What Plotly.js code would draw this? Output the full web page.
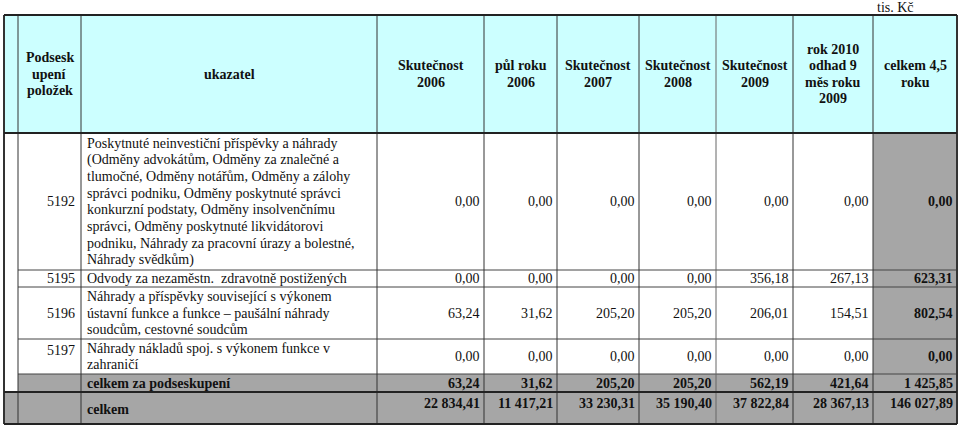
<!DOCTYPE html>
<html>
<head>
<meta charset="utf-8">
<script src="https://cdn.plot.ly/plotly-3.0.1.min.js"></script>
<style>body{margin:0;background:#fff}</style>
</head>
<body>
<div id="TableDiv" style="width:960px;height:426px"></div>
<script>
// column headers
var headers = ['', 'Podsesk<br>upení<br>položek', 'ukazatel', 'Skutečnost<br>2006', 'půl roku<br>2006',
  'Skutečnost<br>2007', 'Skutečnost<br>2008', 'Skutečnost<br>2009',
  'rok 2010<br>odhad 9<br>měs roku<br>2009', 'celkem 4,5<br>roku'];

// item codes and their descriptions
var codes = ['5192', '5195', '5196', '5197'];
var labels = [
  'Poskytnuté neinvestiční příspěvky a náhrady<br>(Odměny advokátům, Odměny za znalečné a<br>tlumočné, Odměny notářům, Odměny a zálohy<br>správci podniku, Odměny poskytnuté správci<br>konkurzní podstaty, Odměny insolvenčnímu<br>správci, Odměny poskytnuté likvidátorovi<br>podniku, Náhrady za pracovní úrazy a bolestné,<br>Náhrady svědkům)',
  'Odvody za nezaměstn.  zdravotně postižených',
  'Náhrady a příspěvky související s výkonem<br>ústavní funkce a funkce – paušální náhrady<br>soudcům, cestovné soudcům',
  'Náhrady nákladů spoj. s výkonem funkce v<br>zahraničí'
];

// values in tis. Kč
var skut2006 = [0, 0, 63.24, 0];
var pul2006  = [0, 0, 31.62, 0];
var skut2007 = [0, 0, 205.20, 0];
var skut2008 = [0, 0, 205.20, 0];
var skut2009 = [0, 356.18, 206.01, 0];
var odhad2010 = [0, 267.13, 154.51, 0];
var celkem45 = [0, 623.31, 802.54, 0];

var subtotalLabel = 'celkem za podseskupení';
var subtotal = [63.24, 31.62, 205.20, 205.20, 562.19, 421.64, 1425.85];
var totalLabel = 'celkem';
var grandTotal = [22834.41, 11417.21, 33230.31, 35190.40, 37822.84, 28367.13, 146027.89];

var unitNote = 'tis. Kč';

// grid geometry (pixels on a 960x426 axis)
var colEdges = [4, 18, 81, 377, 484, 557, 639, 716, 793, 873, 957];
var rowEdges = [15, 133, 270, 287, 339, 374, 392, 424];

var cyan = '#ccffff';
var grey = '#a6a6a6';
var ink = '#111111';
var serif = 'Liberation Serif, Times New Roman, serif';
var lineH = 16.6;

function fmt(v) {
  var p = v.toFixed(2).split('.');
  return p[0].replace(/\B(?=(\d{3})+(?!\d))/g, ' ') + ',' + p[1];
}

var shapes = [];
var annotations = [];

function rect(x0, x1, y0, y1, fill) {
  shapes.push({type: 'rect', xref: 'x', yref: 'y', x0: x0, x1: x1, y0: y0, y1: y1,
    fillcolor: fill, line: {width: 0}, layer: 'below'});
}
function seg(x0, y0, x1, y1, w, c) {
  shapes.push({type: 'line', xref: 'x', yref: 'y', x0: x0, y0: y0, x1: x1, y1: y1,
    line: {width: w, color: c || '#333'}});
}
function text(str, x, yc, anchor, bold, size) {
  var parts = str.split('<br>');
  var top = yc - (parts.length - 1) * lineH / 2;
  parts.forEach(function (p, i) {
    annotations.push({xref: 'x', yref: 'y', x: x, y: top + i * lineH, text: bold ? '<b>' + p + '</b>' : p,
      showarrow: false, xanchor: anchor, yanchor: 'middle', borderpad: 0,
      font: {family: serif, size: size || 14, color: ink}});
  });
}

var L = colEdges[0], R = colEdges[colEdges.length - 1];
// fills
rect(L, R, rowEdges[0], rowEdges[1], cyan);
rect(colEdges[9], R, rowEdges[1], rowEdges[5], grey);
rect(colEdges[1], R, rowEdges[5], rowEdges[6], grey);
rect(L, R, rowEdges[6], rowEdges[7], grey);

// grid lines
for (var r = 2; r <= 5; r++) seg(colEdges[1], rowEdges[r], R, rowEdges[r], 1, '#444');
colEdges.forEach(function (x, i) {
  var w = (i === 0 || i === colEdges.length - 1) ? 2 : 1;
  seg(x, rowEdges[0], x, rowEdges[7], w, i === 7 ? '#666' : '#333');
});
seg(L, rowEdges[0], R, rowEdges[0], 2, '#222');
seg(L, rowEdges[1], R, rowEdges[1], 2, '#222');
seg(L, rowEdges[6], R, rowEdges[6], 2, '#222');
seg(L, rowEdges[7], R, rowEdges[7], 2, '#222');

// header
headers.forEach(function (h, i) {
  if (!h) return;
  text(h, (colEdges[i] + colEdges[i + 1]) / 2, (rowEdges[0] + rowEdges[1]) / 2, 'center', true, 14);
});
text(unitNote, colEdges[9] + 22, 7, 'center', false, 14);

// body rows
var series = [skut2006, pul2006, skut2007, skut2008, skut2009, odhad2010, celkem45];
var codeShift = [0, 0, 0, -6];
codes.forEach(function (code, r) {
  var yc = (rowEdges[r + 1] + rowEdges[r + 2]) / 2;
  text(code, colEdges[2] - 5, yc + codeShift[r], 'right', false, 14);
  text(labels[r], colEdges[2] + 5, yc, 'left', false, 14);
  series.forEach(function (s, k) {
    text(fmt(s[r]), colEdges[k + 4] - 3.5, yc, 'right', k === 6, 14);
  });
});

// subtotal and total
var ySub = (rowEdges[5] + rowEdges[6]) / 2;
text(subtotalLabel, colEdges[2] + 5, ySub, 'left', true, 14);
subtotal.forEach(function (v, k) { text(fmt(v), colEdges[k + 4] - 3.5, ySub, 'right', true, 14); });
text(totalLabel, colEdges[2] + 5, (rowEdges[6] + rowEdges[7]) / 2 + 1, 'left', true, 14);
grandTotal.forEach(function (v, k) { text(fmt(v), colEdges[k + 4] - 3.5, rowEdges[6] + 11, 'right', true, 14); });

var layout = {
  width: 960, height: 426,
  margin: {l: 0, r: 0, t: 0, b: 0},
  paper_bgcolor: '#fff', plot_bgcolor: '#fff',
  xaxis: {range: [0, 960], visible: false, fixedrange: true},
  yaxis: {range: [426, 0], visible: false, fixedrange: true},
  showlegend: false,
  shapes: shapes,
  annotations: annotations
};

Plotly.newPlot('TableDiv', [{x: [], y: [], type: 'scatter', hoverinfo: 'skip'}], layout, {staticPlot: true});
</script>
</body>
</html>
